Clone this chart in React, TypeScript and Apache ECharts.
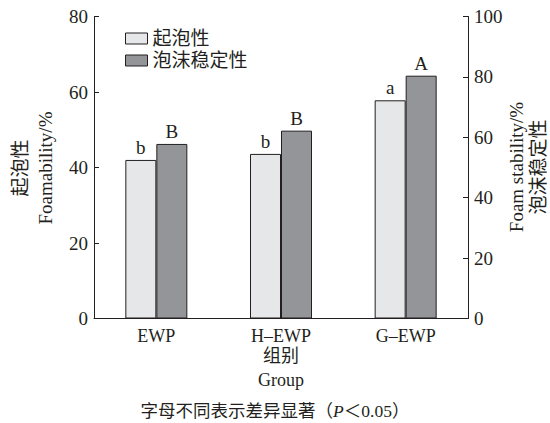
import React, { useEffect, useRef } from "react";
import * as echarts from "echarts";

const categories = ["EWP", "H–EWP", "G–EWP"];
const foamability = [42.0, 43.6, 57.8];
const foamStability = [57.8, 62.2, 80.4];
const foamabilityLetters = ["b", "b", "a"];
const stabilityLetters = ["B", "B", "A"];
const leftTicks = { min: 0, max: 80, interval: 20 };
const rightTicks = { min: 0, max: 100, interval: 20 };

const SERIF = "'Liberation Serif', 'Times New Roman', 'Noto Sans CJK SC', serif";
const INK = "#231f20";

export default function App() {
  const ref = useRef<HTMLDivElement>(null);
  useEffect(() => {
    document.body.style.margin = "0";
    const chart = echarts.init(ref.current!, null, { renderer: "svg" });
    chart.setOption({
      animation: false,
      backgroundColor: "#ffffff",
      textStyle: { fontFamily: SERIF, color: INK },
      grid: { left: 94, right: 82, top: 16.5, bottom: 104.5, containLabel: false },
      legend: {
        orient: "vertical",
        left: 125,
        top: 29,
        padding: 0,
        itemWidth: 22,
        itemHeight: 11,
        itemGap: 3,
        icon: "rect",
        itemStyle: { borderColor: INK, borderWidth: 1 },
        textStyle: { fontSize: 19, color: INK, fontFamily: SERIF },
        data: ["起泡性", "泡沫稳定性"],
      },
      xAxis: {
        type: "category",
        data: categories,
        axisLine: { lineStyle: { color: INK, width: 1 } },
        axisTick: { inside: true, length: 5, lineStyle: { color: INK } },
        axisLabel: { fontSize: 18, color: INK, margin: 8, fontFamily: SERIF },
        splitLine: { show: false },
      },
      yAxis: [
        {
          type: "value",
          position: "left",
          ...leftTicks,
          axisLine: { show: true, lineStyle: { color: INK, width: 1 } },
          axisTick: { show: true, inside: true, length: 5, lineStyle: { color: INK } },
          axisLabel: { fontSize: 19, color: INK, margin: 6, fontFamily: SERIF },
          splitLine: { show: false },
        },
        {
          type: "value",
          position: "right",
          ...rightTicks,
          axisLine: { show: true, lineStyle: { color: INK, width: 1 } },
          axisTick: { show: true, inside: true, length: 5, lineStyle: { color: INK } },
          axisLabel: { fontSize: 19, color: INK, margin: 6, fontFamily: SERIF },
          splitLine: { show: false },
        },
      ],
      series: [
        {
          name: "起泡性",
          type: "bar",
          yAxisIndex: 0,
          data: foamability,
          barWidth: 31,
          barGap: "0%",
          itemStyle: { color: "#e6e7e8", borderColor: INK, borderWidth: 1 },
          label: {
            show: true,
            position: "top",
            distance: 3,
            fontSize: 19,
            color: INK,
            fontFamily: SERIF,
            formatter: (p: any) => foamabilityLetters[p.dataIndex],
          },
        },
        {
          name: "泡沫稳定性",
          type: "bar",
          yAxisIndex: 1,
          data: foamStability,
          barWidth: 31,
          barGap: "0%",
          itemStyle: { color: "#939598", borderColor: INK, borderWidth: 1 },
          label: {
            show: true,
            position: "top",
            distance: 3,
            fontSize: 19,
            color: INK,
            fontFamily: SERIF,
            formatter: (p: any) => stabilityLetters[p.dataIndex],
          },
        },
      ],
      graphic: [
        {
          type: "text",
          x: 20,
          y: 168,
          rotation: Math.PI / 2,
          style: { text: "起泡性", font: `19px ${SERIF}`, fill: INK, textAlign: "center", textVerticalAlign: "middle" },
        },
        {
          type: "text",
          x: 45,
          y: 168,
          rotation: Math.PI / 2,
          style: { text: "Foamability/%", font: `19px ${SERIF}`, fill: INK, textAlign: "center", textVerticalAlign: "middle" },
        },
        {
          type: "text",
          x: 516.5,
          y: 167,
          rotation: Math.PI / 2,
          style: { text: "Foam stability/%", font: `19px ${SERIF}`, fill: INK, textAlign: "center", textVerticalAlign: "middle" },
        },
        {
          type: "text",
          x: 538,
          y: 167,
          rotation: Math.PI / 2,
          style: { text: "泡沫稳定性", font: `19px ${SERIF}`, fill: INK, textAlign: "center", textVerticalAlign: "middle" },
        },
        {
          type: "text",
          x: 281,
          y: 356,
          style: { text: "组别", font: `18px ${SERIF}`, fill: INK, textAlign: "center", textVerticalAlign: "middle" },
        },
        {
          type: "text",
          x: 281,
          y: 380,
          style: { text: "Group", font: `18px ${SERIF}`, fill: INK, textAlign: "center", textVerticalAlign: "middle" },
        },
        {
          type: "text",
          x: 275,
          y: 411,
          style: {
            text: "{a|字母不同表示差异显著（}{i|P}{a|＜0.05）}",
            fill: INK,
            textAlign: "center",
            textVerticalAlign: "middle",
            rich: {
              a: { fontSize: 17.5, fontFamily: SERIF, color: INK },
              i: { fontSize: 17.5, fontFamily: SERIF, fontStyle: "italic", color: INK },
            },
          },
        },
      ],
    });
    return () => chart.dispose();
  }, []);
  return <div ref={ref} style={{ width: 550, height: 423 }} />;
}
